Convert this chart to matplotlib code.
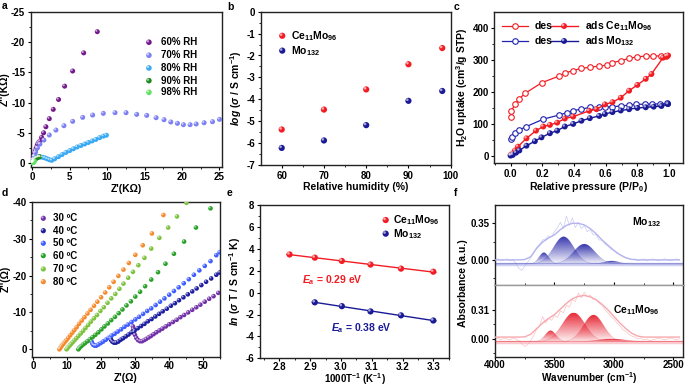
import matplotlib
matplotlib.use('Agg')
import matplotlib.pyplot as plt
import matplotlib.colors as mcolors
import numpy as np
from matplotlib.transforms import offset_copy
from matplotlib.ticker import MultipleLocator

plt.rcParams['font.family'] = ['Liberation Sans', 'DejaVu Sans']
plt.rcParams['font.weight'] = 'bold'
plt.rcParams['font.size'] = 7
plt.rcParams['axes.labelweight'] = 'bold'
plt.rcParams['axes.labelsize'] = 7.5
plt.rcParams['axes.unicode_minus'] = False
plt.rcParams['axes.linewidth'] = 1.0
plt.rcParams['mathtext.fontset'] = 'custom'
plt.rcParams['mathtext.rm'] = 'Liberation Sans:bold'
plt.rcParams['mathtext.it'] = 'Liberation Sans:italic:bold'
plt.rcParams['mathtext.bf'] = 'Liberation Sans:bold'

#------------ DATA ----------------------------
# a: Nyquist plots at different RH (KOhm)
rh_labels = ['60% RH', '70% RH', '80% RH', '90% RH', '98% RH']
rh_colors = ['#74198c', '#7c80f2', '#38a9f2', '#1f8a1f', '#5fe25f']
a60_x = [0.05, 0.12, 0.2, 0.3, 0.4, 0.55, 0.7, 0.85, 1.03, 1.25, 1.52, 1.83, 2.28, 2.81, 3.52, 4.33, 5.4, 6.87, 8.69]
a60_y = [-0.2, -0.6, -1.1, -1.6, -2.1, -2.6, -3.1, -3.4, -3.64, -4.24, -5.0, -6.0, -7.33, -8.87, -10.5, -12.7, -15.2, -18.2, -21.7]
a70_x = [0.05, 0.15, 0.3, 0.45, 0.7, 1.03, 1.56, 2.28, 3.17, 4.24, 5.4, 6.74, 8.07, 9.49, 11.06, 12.53, 13.95, 15.29,
         16.54, 17.6, 18.5, 19.39, 20.19, 21.08, 21.89, 22.95, 24.07, 25.0]
a70_y = [-0.1, -0.6, -1.2, -1.8, -2.5, -3.14, -3.8, -4.63, -5.45, -6.17, -6.89, -7.55, -7.93, -8.21, -8.32, -8.32, -8.04,
         -7.88, -7.49, -7.16, -6.78, -6.56, -6.34, -6.34, -6.45, -6.66, -6.83, -7.22]
a80_x = [0.05, 0.15, 0.3, 0.5, 0.8, 1.1, 1.4, 1.7, 2.0, 2.3, 2.6, 3.0, 3.5, 4.0, 4.5, 5.0, 5.5, 6.0, 6.5, 7.0, 7.5,
         8.0, 8.5, 9.0, 9.5, 9.9]
a80_y = [-0.1, -0.4, -0.7, -0.9, -1.0, -1.0, -0.95, -0.85, -0.7, -0.55, -0.45, -0.7, -1.05, -1.4, -1.75, -2.05, -2.35,
         -2.65, -2.9, -3.15, -3.4, -3.65, -3.9, -4.2, -4.45, -4.6]
a90_x = [0.1, 0.25, 0.4, 0.55, 0.7, 0.85, 1.0]
a90_y = [-0.2, -0.45, -0.65, -0.8, -0.9, -1.0, -1.05]
a98_x = [0.05, 0.1, 0.15, 0.2, 0.3]
a98_y = [-0.05, -0.15, -0.1, -0.25, -0.3]

# b: conductivity vs RH
rh = [60, 70, 80, 90, 98]
b_ce = [-5.38, -4.47, -3.55, -2.4, -1.66]
b_mo = [-6.22, -5.88, -5.18, -4.07, -3.62]

# c: water sorption isotherms
c_ce_des_x = [0.0, 0.005, 0.027, 0.053, 0.092, 0.197, 0.307, 0.342, 0.395, 0.447, 0.5, 0.559, 0.609, 0.64, 0.695,
              0.748, 0.8, 0.853, 0.9, 0.948, 0.983]
c_ce_des_y = [122, 140, 160, 177, 195, 228, 249, 258, 266, 273, 276, 280, 283, 290, 297, 304, 309, 311, 311, 312, 312]
c_ce_ads_x = [0.0, 0.013, 0.027, 0.046, 0.1, 0.16, 0.206, 0.248, 0.294, 0.342, 0.395, 0.496, 0.542, 0.595, 0.643,
              0.695, 0.748, 0.8, 0.853, 0.889, 0.962, 0.983, 0.994]
c_ce_ads_y = [2, 7, 16, 28, 54, 78, 91, 96, 103, 116, 122, 140, 145, 160, 167, 181, 203, 221, 240, 255, 306, 311, 313]
c_mo_des_x = [0.0, 0.008, 0.027, 0.053, 0.1, 0.206, 0.307, 0.353, 0.395, 0.447, 0.5, 0.559, 0.595, 0.643, 0.695,
              0.748, 0.794, 0.847, 0.895, 0.945, 0.987]
c_mo_des_y = [51, 59, 70, 80, 91, 114, 127, 134, 141, 145, 151, 151, 151, 153, 155, 158, 160, 161, 161, 162, 163]
c_mo_ads_x = [0.0, 0.013, 0.034, 0.055, 0.1, 0.153, 0.195, 0.248, 0.294, 0.342, 0.395, 0.447, 0.5, 0.559, 0.595,
              0.643, 0.695, 0.748, 0.8, 0.853, 0.903, 0.952, 0.994]
c_mo_ads_y = [0, 2, 9, 16, 31, 45, 57, 70, 78, 91, 99, 109, 117, 124, 130, 136, 141, 145, 149, 151, 153, 155, 161]

# d: Nyquist plots at different temperatures (Ohm)
t_labels = ['30 ºC', '40 ºC', '50 ºC', '60 ºC', '70 ºC', '80 ºC']
t_colors = ['#7030a8', '#1c1ca0', '#3d5cff', '#27a127', '#7dc23e', '#f7892a']
d30_x = [29.4, 29.5, 29.7, 30.0, 30.4, 30.9, 31.5, 32.1, 32.7, 33.3, 34.0, 34.7, 35.5, 36.3, 37.2, 38.1, 39.1, 40.1,
         41.2, 42.3, 43.4, 44.5, 45.7, 46.9, 48.1, 49.3, 50.6, 51.9, 53.2, 54.6]
d30_y = [-6.2, -5.5, -4.7, -3.9, -3.1, -2.5, -2.2, -2.2, -2.5, -2.8, -3.2, -3.6, -4.1, -4.6, -5.1, -5.6, -6.2, -6.8,
         -7.4, -8.0, -8.7, -9.3, -10.0, -10.7, -11.4, -12.1, -12.9, -13.7, -14.4, -15.3]
d40_x = [22.8, 23.0, 23.3, 23.8, 24.4, 25.1, 25.8, 26.5, 27.3, 28.1, 29.0, 29.9, 30.8, 31.8, 32.8, 33.8, 34.9, 36.0,
         37.1, 38.2, 39.4, 40.6, 41.8, 43.0, 44.3, 45.6, 46.9, 48.2, 49.6, 51.0, 52.5, 54.0, 55.0]
d40_y = [-3.0, -2.5, -2.1, -1.8, -1.8, -2.1, -2.6, -3.0, -3.5, -4.0, -4.6, -5.1, -5.7, -6.3, -6.9, -7.6, -8.2, -8.9,
         -9.6, -10.3, -11.0, -11.8, -12.5, -13.3, -14.1, -14.9, -15.7, -16.5, -17.4, -18.3, -19.2, -20.2, -20.8]
d50_x = [17.2, 17.4, 17.7, 18.1, 18.6, 19.2, 19.9, 20.6, 21.4, 22.2, 23.1, 24.0, 24.9, 25.9, 26.9, 27.9, 29.0, 30.1,
         31.2, 32.4, 33.6, 34.8, 36.1, 37.4, 38.7, 40.1, 41.5, 42.9, 44.4, 45.9, 47.4, 49.0, 50.6, 52.3, 54.0, 55.0]
d50_y = [-2.1, -1.6, -1.2, -1.0, -1.0, -1.3, -1.7, -2.1, -2.6, -3.1, -3.7, -4.2, -4.8, -5.4, -6.1, -6.7, -7.4, -8.1,
         -8.8, -9.6, -10.4, -11.1, -12.0, -12.9, -13.8, -14.8, -15.8, -16.8, -17.9, -19.0, -20.2, -21.4, -22.6, -23.9,
         -25.5, -26.3]
d60_x = [13.3, 13.5, 13.8, 14.2, 14.7, 15.3, 16.0, 16.7, 17.5, 18.3, 19.2, 20.1, 21.0, 22.0, 23.0, 24.1, 25.2, 26.3,
         27.5, 28.8, 30.1, 31.5, 33.0, 34.8, 36.8, 39.0, 41.5, 44.5, 48.0, 52.3]
d60_y = [0.0, -0.3, -0.6, -0.9, -1.3, -1.7, -2.2, -2.7, -3.3, -3.9, -4.6, -5.4, -6.2, -7.0, -7.9, -8.8, -9.8, -10.8,
         -11.9, -13.0, -14.3, -15.6, -17.1, -18.9, -20.9, -23.2, -25.9, -29.2, -33.0, -38.2]
d70_x = [9.8, 10.0, 10.3, 10.7, 11.1, 11.6, 12.1, 12.7, 13.3, 14.0, 14.7, 15.4, 16.2, 17.0, 17.9, 18.8, 19.8, 20.8,
         21.9, 23.0, 24.2, 25.4, 26.6, 28.0, 29.4, 31.0, 32.8, 34.8, 37.2, 39.8, 42.4, 45.2]
d70_y = [0.0, -0.3, -0.6, -1.0, -1.4, -1.9, -2.4, -3.0, -3.6, -4.3, -5.0, -5.8, -6.6, -7.5, -8.4, -9.3, -10.4, -11.4,
         -12.6, -13.8, -15.0, -16.4, -17.8, -19.4, -21.0, -22.8, -24.8, -27.3, -30.2, -33.0, -36.0, -39.7]
d80_x = [7.7, 7.9, 8.2, 8.5, 8.9, 9.3, 9.8, 10.3, 10.9, 11.5, 12.1, 12.8, 13.5, 14.3, 15.1, 16.0, 16.9, 17.9, 18.9,
         20.0, 21.2, 22.4, 23.7, 25.1, 26.6, 28.2, 30.1, 32.3, 35.0, 38.4]
d80_y = [0.0, -0.3, -0.7, -1.1, -1.5, -2.0, -2.5, -3.1, -3.8, -4.5, -5.2, -6.0, -6.9, -7.8, -8.7, -9.7, -10.7, -11.8,
         -12.9, -14.1, -15.4, -16.8, -18.3, -19.9, -21.6, -23.4, -25.6, -28.2, -31.4, -36.4]

# e: Arrhenius plots
e_ce_x = [2.833, 2.915, 3.003, 3.096, 3.195, 3.300]
e_ce_y = [3.48, 3.19, 2.89, 2.56, 2.19, 1.91]
e_mo_x = [2.915, 3.003, 3.096, 3.195, 3.300]
e_mo_y = [-0.89, -1.24, -1.72, -2.08, -2.55]

# f: FTIR O-H band (wavenumber, absorbance)
f_raw_wn = list(range(4000, 2449, -25))
f_mo_raw = [0.00, 0.01, -0.01, 0.00, 0.01, -0.01, 0.00, -0.03, -0.08, -0.10, -0.06, -0.02, 0.02, 0.07, 0.12, 0.15,
            0.19, 0.20, 0.23, 0.22, 0.27, 0.31, 0.36, 0.30, 0.42, 0.33, 0.40, 0.31, 0.36, 0.30, 0.33, 0.27, 0.29,
            0.24, 0.24, 0.19, 0.19, 0.15, 0.13, 0.10, 0.09, 0.06, 0.05, 0.03, 0.02, 0.01, 0.00, 0.01, -0.01, 0.00,
            0.01, -0.01, 0.00, 0.01, 0.00, -0.01, 0.00, 0.01, 0.00, -0.01, 0.00, 0.01, 0.00]
f_ce_raw = [0.00, 0.01, -0.01, 0.01, 0.00, -0.01, 0.01, 0.00, -0.02, -0.05, -0.08, -0.06, -0.02, 0.04, 0.10, 0.14,
            0.24, 0.17, 0.22, 0.20, 0.25, 0.23, 0.30, 0.28, 0.36, 0.34, 0.42, 0.40, 0.49, 0.44, 0.50, 0.45, 0.47,
            0.42, 0.42, 0.38, 0.36, 0.31, 0.28, 0.24, 0.21, 0.17, 0.14, 0.10, 0.08, 0.05, 0.03, 0.02, 0.00, 0.01,
            -0.01, 0.00, -0.02, -0.01, 0.00, 0.01, 0.00, -0.01, 0.00, 0.01, 0.00, -0.01, 0.00]
f_env_wn = list(range(4000, 2449, -50))
f_mo_env = [0.0, 0.0, 0.0, 0.0, 0.0, 0.003, 0.03, 0.11, 0.17, 0.21, 0.24, 0.29, 0.33, 0.35, 0.35, 0.335, 0.30, 0.25,
            0.19, 0.14, 0.09, 0.05, 0.02, 0.005, 0.0, 0.0, 0.0, 0.0, 0.0, 0.0, 0.0, 0.0]
f_ce_env = [0.02, 0.02, 0.02, 0.02, 0.02, 0.022, 0.05, 0.11, 0.17, 0.22, 0.26, 0.32, 0.38, 0.43, 0.455, 0.465, 0.45,
            0.42, 0.37, 0.31, 0.24, 0.17, 0.11, 0.06, 0.03, 0.02, 0.02, 0.02, 0.02, 0.02, 0.02, 0.02]
# fitted peak components: centre (cm-1), height, sigma (cm-1)
f_mo_peaks = [(3589, 0.108, 40), (3423, 0.26, 85), (3250, 0.19, 90), (3020, 0.028, 60)]
f_ce_peaks = [(3533, 0.118, 45), (3339, 0.31, 95), (3172, 0.286, 85), (3020, 0.03, 110)]
f_mo_base = -0.038
f_ce_base = -0.029

RED = '#f21d24'
NAVY = '#1a1a96'

#------------ HELPERS ----------------------------
fig = plt.figure(figsize=(6.85, 3.86), dpi=100)
W, H = 685.0, 386.0


def add_ax(l, t, r, b):
    return fig.add_axes([l / W, 1 - b / H, (r - l) / W, (b - t) / H])


def balls(ax, x, y, color, s=14, transform=None, clip=True):
    tr = ax.transData if transform is None else transform
    ax.scatter(x, y, s=s, color=color, edgecolors='none', transform=tr, zorder=3, clip_on=clip)
    d = np.sqrt(s)
    hl = offset_copy(tr, fig=fig, x=-0.18 * d, y=0.18 * d, units='points')
    ax.scatter(x, y, s=s * 0.18, color='white', alpha=0.6, edgecolors='none', transform=hl, zorder=4, clip_on=clip)


def style(ax):
    ax.tick_params(which='major', direction='out', length=2.5, width=0.8, pad=1.5, labelsize=7)
    ax.tick_params(which='minor', direction='out', length=1.5, width=0.6)
    for sp in ax.spines.values():
        sp.set_color('#222222')


def ftext(x, y, s, **kw):
    fig.text(x / W, 1 - y / H, s, fontweight='bold', ha='center', va='center', **kw)


#------------ a ----------------------------
ax = add_ax(30.7, 11.7, 221.7, 166.7)
style(ax)
a_series = [(a60_x, a60_y), (a70_x, a70_y), (a80_x, a80_y), (a90_x, a90_y), (a98_x, a98_y)]
for (xs, ys), col in zip(a_series, rh_colors):
    balls(ax, xs, ys, col, s=13)
ax.set_xlim(-0.2, 25.3)
ax.set_ylim(0.6, -25)
ax.xaxis.set_major_locator(MultipleLocator(5))
ax.xaxis.set_minor_locator(MultipleLocator(2.5))
ax.yaxis.set_major_locator(MultipleLocator(5))
ax.yaxis.set_minor_locator(MultipleLocator(2.5))
ax.set_xlabel("Z'(KΩ)", labelpad=1)
ax.set_ylabel("Z''(KΩ)", labelpad=1)
for i, (lab, col) in enumerate(zip(rh_labels, rh_colors)):
    yy = [0.803, 0.719, 0.637, 0.555, 0.480][i]
    balls(ax, [0.619], [yy], col, s=16, transform=ax.transAxes, clip=False)
    ax.text(0.682, yy, lab, transform=ax.transAxes, va='center', fontsize=7)

#------------ b ----------------------------
ax = add_ax(261, 11.7, 450.7, 165)
style(ax)
balls(ax, rh, b_ce, RED, s=20)
balls(ax, rh, b_mo, NAVY, s=20)
ax.set_xlim(55.1, 100)
ax.set_ylim(-7, 0)
ax.xaxis.set_major_locator(MultipleLocator(10))
ax.xaxis.set_minor_locator(MultipleLocator(5))
ax.yaxis.set_major_locator(MultipleLocator(1))
ax.yaxis.set_minor_locator(MultipleLocator(0.5))
ax.set_xlabel('Relative humidity (%)', labelpad=1)
ax.set_ylabel(r'$log$ ($\sigma$ / S cm$^{-1}$)', labelpad=2)
for yy, col, lab in [(0.843, RED, r'Ce$_{11}$Mo$_{96}$'), (0.746, NAVY, r'Mo$_{132}$')]:
    balls(ax, [0.112], [yy], col, s=20, transform=ax.transAxes, clip=False)
    ax.text(0.158, yy, lab, transform=ax.transAxes, va='center', fontsize=7.5)

#------------ c ----------------------------
ax = add_ax(494.3, 12.3, 683.3, 163.3)
style(ax)
ax.plot(c_ce_des_x, c_ce_des_y, '-o', color=RED, lw=0.9, ms=4, mfc='white', mew=0.8, zorder=2)
ax.plot(c_mo_des_x, c_mo_des_y, '-o', color='#2323b0', lw=0.9, ms=4, mfc='white', mew=0.8, zorder=2)
ax.plot(c_ce_ads_x, c_ce_ads_y, '-', color=RED, lw=1.0, zorder=2)
ax.plot(c_mo_ads_x, c_mo_ads_y, '-', color=NAVY, lw=1.0, zorder=2)
balls(ax, c_ce_ads_x, c_ce_ads_y, RED, s=18)
balls(ax, c_mo_ads_x, c_mo_ads_y, NAVY, s=18)
ax.set_xlim(-0.103, 1.09)
ax.set_ylim(-24, 448)
ax.xaxis.set_major_locator(MultipleLocator(0.2))
ax.xaxis.set_minor_locator(MultipleLocator(0.1))
ax.yaxis.set_major_locator(MultipleLocator(100))
ax.yaxis.set_minor_locator(MultipleLocator(50))
ax.set_xlabel('Relative pressure (P/P$_0$)', labelpad=1)
ax.set_ylabel('H$_2$O uptake (cm$^3$/g STP)', labelpad=2)
leg_rows = [(0.909, RED, RED, r'ads Ce$_{11}$Mo$_{96}$'), (0.81, '#2323b0', NAVY, r'ads Mo$_{132}$')]
for yy, c1, c2, lab in leg_rows:
    ax.plot([0.039, 0.178], [yy, yy], '-', color=c1, lw=0.9, transform=ax.transAxes, clip_on=False)
    ax.plot([0.109], [yy], 'o', color=c1, ms=4, mfc='white', mew=0.8, transform=ax.transAxes, clip_on=False)
    ax.text(0.215, yy, 'des', transform=ax.transAxes, va='center', fontsize=7.5)
    ax.plot([0.295, 0.443], [yy, yy], '-', color=c2, lw=1.0, transform=ax.transAxes, clip_on=False)
    balls(ax, [0.369], [yy], c2, s=18, transform=ax.transAxes, clip=False)
    ax.text(0.48, yy, lab, transform=ax.transAxes, va='center', fontsize=7.5)

#------------ d ----------------------------
ax = add_ax(32.3, 201.7, 220, 356.7)
style(ax)
d_series = [(d30_x, d30_y), (d40_x, d40_y), (d50_x, d50_y), (d60_x, d60_y), (d70_x, d70_y), (d80_x, d80_y)]
for (xs, ys), col in zip(d_series, t_colors):
    balls(ax, xs, ys, col, s=11)
ax.set_xlim(-0.3, 55.1)
ax.set_ylim(2, -40)
ax.xaxis.set_major_locator(MultipleLocator(10))
ax.xaxis.set_minor_locator(MultipleLocator(5))
ax.yaxis.set_major_locator(MultipleLocator(10))
ax.yaxis.set_minor_locator(MultipleLocator(5))
ax.tick_params(axis='x', which='major', length=2, pad=0.8)
ax.set_ylabel("Z''(Ω)", labelpad=1)
ftext(126, 378, "Z'(Ω)", fontsize=7.5)
for i, (lab, col) in enumerate(zip(t_labels, t_colors)):
    yy = [0.893, 0.813, 0.732, 0.652, 0.566, 0.484][i]
    balls(ax, [0.0586], [yy], col, s=14, transform=ax.transAxes, clip=False)
    ax.text(0.112, yy, lab, transform=ax.transAxes, va='center', fontsize=7)

#------------ e ----------------------------
ax = add_ax(260, 205, 449.3, 358.3)
style(ax)
for xs, ys, col in [(e_ce_x, e_ce_y, RED), (e_mo_x, e_mo_y, NAVY)]:
    k, b0 = np.polyfit(xs, ys, 1)
    xx = np.array([min(xs) - 0.008, max(xs) + 0.008])
    ax.plot(xx, k * xx + b0, '-', color=col, lw=1.0, zorder=2)
    balls(ax, xs, ys, col, s=20)
ax.set_xlim(2.737, 3.352)
ax.set_ylim(-6, 8)
ax.xaxis.set_major_locator(MultipleLocator(0.1))
ax.xaxis.set_minor_locator(MultipleLocator(0.05))
ax.yaxis.set_major_locator(MultipleLocator(2))
ax.yaxis.set_minor_locator(MultipleLocator(1))
ax.tick_params(axis='x', which='major', length=2, pad=0.5)
ax.set_ylabel(r'$ln$ ($\sigma$ T / S cm$^{-1}$ K)', labelpad=2)
ftext(355, 379, '1000T$^{-1}$ (K$^{-1}$)', fontsize=7)
ax.text(2.872, 1.15, r'$E_a$ = 0.29 eV', color=RED, va='center', fontsize=7.5)
ax.text(2.967, -3.26, r'$E_a$ = 0.38 eV', color=NAVY, va='center', fontsize=7.5)
for yy, col, lab in [(0.902, RED, r'Ce$_{11}$Mo$_{96}$'), (0.813, NAVY, r'Mo$_{132}$')]:
    balls(ax, [0.664], [yy], col, s=20, transform=ax.transAxes, clip=False)
    ax.text(0.704, yy, lab, transform=ax.transAxes, va='center', fontsize=7.5)

#------------ f ----------------------------
def spectrum(ax, raw, env, peaks, base, dark, light, ylim):
    wn = np.array(f_raw_wn, dtype=float)
    ax.plot(wn, raw, '-', color=light, lw=0.5, alpha=0.7, zorder=1)
    ax.plot(f_env_wn, env, '-', color=light, lw=1.0, zorder=5)
    ax.axhline(base, color=light, lw=2.5, alpha=0.6, zorder=1)
    grid = np.arange(4000, 2400, -5, dtype=float)
    rgb = mcolors.to_rgb(dark)
    for c0, h, sg in peaks:
        yy = base + h * np.exp(-0.5 * ((grid - c0) / sg) ** 2)
        poly = ax.fill_between(grid, base, yy, color='none', lw=0)
        img = np.zeros((100, 1, 4))
        img[:, 0, :3] = rgb
        img[:, 0, 3] = np.linspace(0.95, 0.03, 100)
        im = ax.imshow(img, extent=[c0 + 4 * sg, c0 - 4 * sg, base, base + h], aspect='auto',
                       origin='upper', zorder=2, interpolation='bilinear')
        im.set_clip_path(poly.get_paths()[0], transform=ax.transData)
        ax.plot(grid, yy, '-', color=dark, lw=0.4, alpha=0.25, zorder=3)
    ax.set_xlim(4000, 2420)
    ax.set_ylim(*ylim)
    ax.xaxis.set_major_locator(MultipleLocator(500))
    ax.xaxis.set_minor_locator(MultipleLocator(250))


axt = add_ax(495, 205, 683, 285)
axb = add_ax(495, 285, 683, 356.7)
for ax in (axt, axb):
    style(ax)
spectrum(axt, f_mo_raw, f_mo_env, f_mo_peaks, f_mo_base, '#2a2aaa', '#b4b4ee', (-0.24, 0.525))
spectrum(axb, f_ce_raw, f_ce_env, f_ce_peaks, f_ce_base, '#e6202e', '#f7a8ae', (-0.19, 0.577))
axt.set_yticks([0.0, 0.35], ['0.00', '0.35'])
axt.set_yticks([-0.175, 0.175], minor=True)
axb.set_yticks([0.0, 0.31], ['0.00', '0.31'])
axb.set_yticks([-0.155, 0.155], minor=True)
axt.tick_params(axis='x', which='both', labelbottom=False, direction='in')
axt.spines['bottom'].set_color('#999999')
axb.spines['top'].set_color('#999999')
axb.tick_params(axis='x', which='major', length=2, pad=0.5)
ftext(589, 378.5, 'Wavenumber (cm$^{-1}$)', fontsize=7.2)
axt.text(0.807, 0.79, r'Mo$_{132}$', transform=axt.transAxes, ha='center', va='center', fontsize=7.5)
axb.text(0.754, 0.651, r'Ce$_{11}$Mo$_{96}$', transform=axb.transAxes, ha='center', va='center', fontsize=7.5)
ftext(463, 283, 'Absorbance (a.u.)', rotation=90, fontsize=7.5)

#------------ LABELS ----------------------------
for x, y, s in [(5, 6, 'a'), (230, 7, 'b'), (456, 7, 'c'), (5, 193, 'd'), (230, 193, 'e'), (456, 193, 'f')]:
    ftext(x, y, s, fontsize=7.5)

fig.savefig('out.png', dpi=100)
